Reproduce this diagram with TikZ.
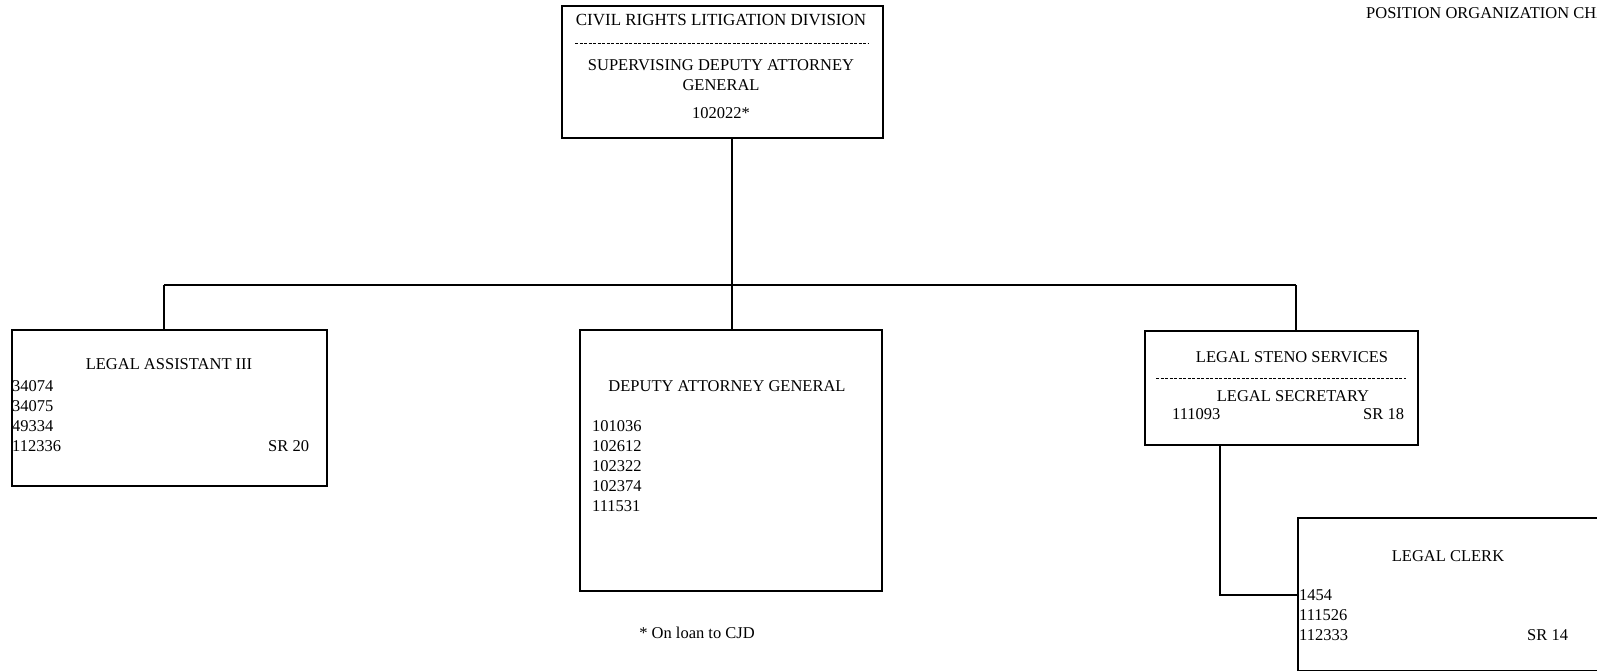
\documentclass[tikz,border=0pt]{standalone}
\usepackage{fontspec}
\setmainfont{Liberation Serif}
\tikzset{
  unit/.style={draw, line width=1.6pt, anchor=north west, inner sep=0},
  txt/.style={inner sep=0, font=\fontsize{16.5}{20}\selectfont},
  ids/.style={txt, anchor=north west, align=left},
  link/.style={line width=1.3pt},
  sep/.style={line width=0.8pt, dash pattern=on 3pt off 1.5pt}
}
\begin{document}
\begin{tikzpicture}[x=1pt, y=-1pt]
\useasboundingbox (0, 0) rectangle (1597, 670);
\clip (0, 0) rectangle (1597, 670);
\fill[white] (0, 0) rectangle (1597, 670);
% boxes
\node (cr)[unit, minimum width=321pt, minimum height=132pt] at (561, 5) {};
\node (la)[unit, minimum width=315pt, minimum height=156pt] at (11, 329) {};
\node (dag)[unit, minimum width=302pt, minimum height=261pt] at (579, 329) {};
\node (steno)[unit, minimum width=273pt, minimum height=114pt] at (1144, 330) {};
\node (clerk)[unit, minimum width=300pt, minimum height=153pt] at (1297, 517) {};
% division head
\node (crT)[txt, font=\fontsize{17}{20}\selectfont] at (721, 20) {CIVIL RIGHTS LITIGATION DIVISION};
\draw[sep] (575, 43) -- (869, 43);
\node (crS)[txt, align=center] at (721, 75) {SUPERVISING DEPUTY ATTORNEY\\GENERAL};
\node (crN)[txt] at (721, 113) {102022*};
% legal assistant
\node (laT)[txt] at (169, 364) {LEGAL ASSISTANT III};
\node (laN)[ids] at (12, 380.5) {34074\\34075\\49334\\112336};
\node (laR)[txt, anchor=west] at (268, 446) {SR 20};
% deputy attorney general
\node (dagT)[txt] at (727, 386) {DEPUTY ATTORNEY GENERAL};
\node (dagN)[ids] at (592, 420.5) {101036\\102612\\102322\\102374\\111531};
% steno services
\node (stenoT)[txt] at (1292, 357) {LEGAL STENO SERVICES};
\draw[sep] (1156, 378) -- (1406, 378);
\node (stenoS)[txt] at (1293, 396) {LEGAL SECRETARY};
\node (stenoN)[txt, anchor=west] at (1172, 414) {111093};
\node (stenoR)[txt, anchor=west] at (1363, 414) {SR 18};
% legal clerk
\node (clerkT)[txt] at (1448, 556) {LEGAL CLERK};
\node (clerkN)[ids] at (1299, 589.5) {1454\\111526\\112333};
\node (clerkR)[txt, anchor=west] at (1527, 635) {SR 14};
% notes
\node (note)[txt] at (697, 633) {* On loan to CJD};
\node (chart)[txt, anchor=west] at (1366, 13) {POSITION ORGANIZATION CHART};
% connectors
\coordinate (busL) at (164, 285);
\coordinate (busR) at (1296, 285);
\coordinate (drop) at (732, 285);
\coordinate (tap) at (1220, 595);
\draw[link] (drop |- cr.south) -- (drop |- dag.north);
\draw[link] (busL) -- (busR);
\draw[link] (busL) -- (busL |- la.north);
\draw[link] (busR) -- (busR |- steno.north);
\draw[link] (tap |- steno.south) -- (tap) -- (tap -| clerk.west);
\end{tikzpicture}
\end{document}
